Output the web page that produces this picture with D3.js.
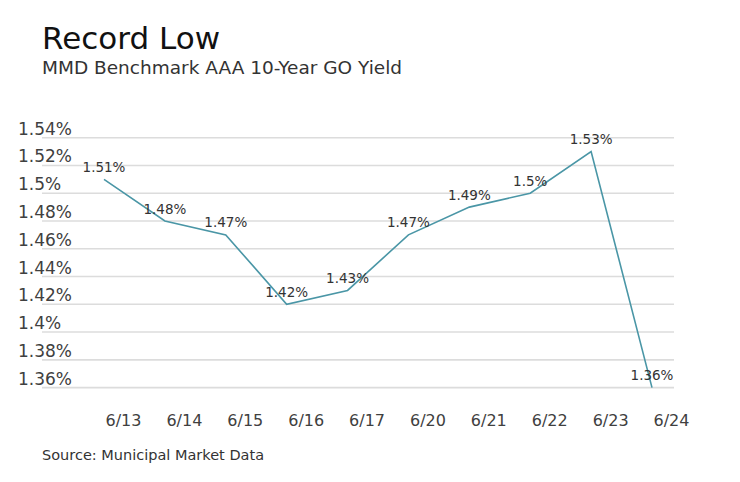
<!DOCTYPE html>
<html>
<head>
<meta charset="utf-8">
<script src="https://cdn.jsdelivr.net/npm/d3@7/dist/d3.min.js"></script>
<style>
  html, body { margin: 0; padding: 0; background: #fff; }
  svg { display: block; font-family: "DejaVu Sans", Verdana, sans-serif; }
</style>
</head>
<body>
<svg id="chart" width="740" height="482"></svg>
<script>
const categories = ["6/13","6/14","6/15","6/16","6/17","6/20","6/21","6/22","6/23","6/24"];
const yields = [1.51, 1.48, 1.47, 1.42, 1.43, 1.47, 1.49, 1.50, 1.53, 1.36];
const yTicks = [1.36, 1.38, 1.40, 1.42, 1.44, 1.46, 1.48, 1.50, 1.52, 1.54];
const titleText = "Record Low";
const subtitleText = "MMD Benchmark AAA 10-Year GO Yield";
const sourceText = "Source: Municipal Market Data";

const svg = d3.select("#chart");
const fmt = v => (+v.toFixed(2)) + "%";

const x = d3.scalePoint().domain(categories).range([104, 652]);
const y = d3.scaleLinear().domain([1.36, 1.54]).range([387.6, 137.7]);

// titles
svg.append("text").attr("x", 42).attr("y", 49)
  .attr("font-size", 31).attr("fill", "#111").text(titleText);
svg.append("text").attr("x", 42).attr("y", 74)
  .attr("font-size", 18.5).attr("fill", "#333").text(subtitleText);

// gridlines
const grid = svg.append("g");
grid.selectAll("line").data(yTicks).join("line")
  .attr("x1", 42).attr("x2", 674)
  .attr("y1", d => y(d)).attr("y2", d => y(d))
  .attr("stroke", "#dcdcdc").attr("stroke-width", 1.6);

// y axis labels
const yAxis = d3.axisLeft(y).tickValues(yTicks).tickFormat(fmt).tickSize(0);
const yg = svg.append("g").attr("transform", "translate(18,0)").call(yAxis);
yg.select(".domain").remove();
yg.selectAll("text")
  .attr("text-anchor", "start").attr("x", 0).attr("dy", -3.5)
  .attr("font-family", "DejaVu Sans, Verdana, sans-serif")
  .attr("font-size", 17).attr("fill", "#404040");

// x axis labels
const xAxis = d3.axisBottom(x).tickSize(0);
const xg = svg.append("g").attr("transform", "translate(19,0)").call(xAxis);
xg.select(".domain").remove();
xg.selectAll("text")
  .attr("y", 425.7).attr("dy", 0)
  .attr("font-family", "DejaVu Sans, Verdana, sans-serif")
  .attr("font-size", 16).attr("fill", "#404040");

// line
const line = d3.line().x((d, i) => x(categories[i])).y(d => y(d));
svg.append("path").datum(yields)
  .attr("d", line).attr("fill", "none")
  .attr("stroke", "#4a96a6").attr("stroke-width", 1.6);

// data labels
svg.append("g").selectAll("text").data(yields).join("text")
  .attr("x", (d, i) => x(categories[i]))
  .attr("y", d => y(d) - 7.5)
  .attr("text-anchor", "middle")
  .attr("font-size", 13.5).attr("fill", "#333")
  .text(fmt);

// source
svg.append("text").attr("x", 42).attr("y", 460)
  .attr("font-size", 14.5).attr("fill", "#333").text(sourceText);
</script>
</body>
</html>
